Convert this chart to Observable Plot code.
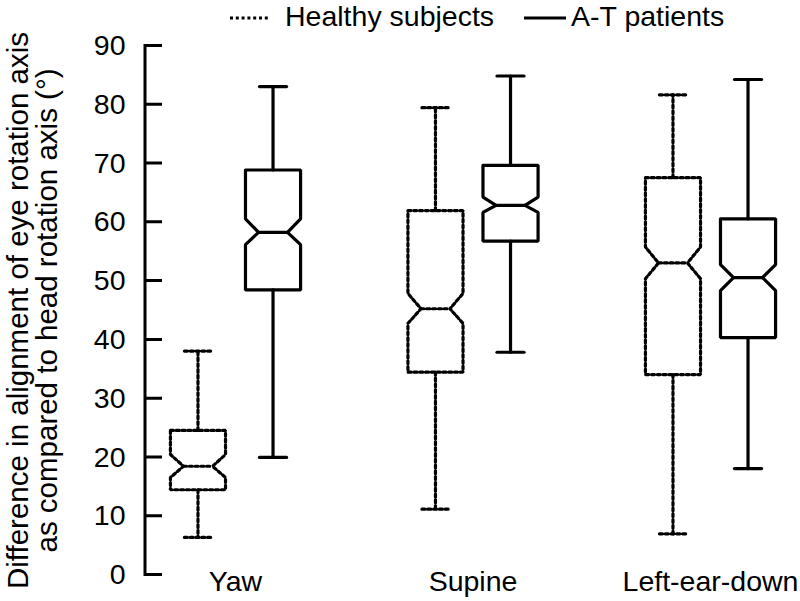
<!DOCTYPE html>
<html><head><meta charset="utf-8">
<script src="https://cdn.jsdelivr.net/npm/d3@7"></script>
<script src="https://cdn.jsdelivr.net/npm/@observablehq/plot@0.6"></script>
<style>
body{margin:0;background:#fff;font-family:"Liberation Sans",Arial,sans-serif;}
#wrap{position:relative;width:800px;height:601px;}
#legend{position:absolute;left:230px;top:0;height:32px;display:flex;align-items:center;font-size:28.5px;color:#000;white-space:nowrap;}
#legend svg{display:block;}
</style></head><body><div id="wrap"><div id="legend"></div></div>
<script>
const categories = ["Yaw", "Supine", "Left-ear-down"];
const groups = ["Healthy subjects", "A-T patients"];
const yTicks = [0, 10, 20, 30, 40, 50, 60, 70, 80, 90];
const yTitle = "Difference in alignment of eye rotation axis\nas compared to head rotation axis (°)";

const healthyMin = [6.4, 11.2, 7.0];
const healthyQ1 = [14.5, 34.5, 34.1];
const healthyMedian = [18.5, 45.3, 53.1];
const healthyQ3 = [24.6, 62.0, 67.6];
const healthyMax = [38.1, 79.5, 81.7];
const healthyNotchLow = [16.6, 42.8, 50.4];
const healthyNotchHigh = [20.5, 47.9, 55.8];

const patientMin = [20.0, 37.9, 18.1];
const patientQ1 = [48.5, 56.8, 40.4];
const patientMedian = [58.3, 62.9, 50.6];
const patientQ3 = [68.9, 69.7, 60.6];
const patientMax = [83.1, 84.9, 84.3];
const patientNotchLow = [56.2, 61.7, 48.4];
const patientNotchHigh = [60.6, 64.3, 52.8];

// layout constants (in category units)
const OFF = 0.158, HW = 0.116, INSET = 0.055, CAP = 0.057;

const boxes = [];
categories.forEach((c, i) => {
  boxes.push({group: groups[0], x: i - OFF, min: healthyMin[i], q1: healthyQ1[i], med: healthyMedian[i], q3: healthyQ3[i], max: healthyMax[i], nlo: healthyNotchLow[i], nhi: healthyNotchHigh[i]});
  boxes.push({group: groups[1], x: i + OFF, min: patientMin[i], q1: patientQ1[i], med: patientMedian[i], q3: patientQ3[i], max: patientMax[i], nlo: patientNotchLow[i], nhi: patientNotchHigh[i]});
});

function outline(b, id) {
  const l = b.x - HW, r = b.x + HW;
  return [
    [l, b.q3], [r, b.q3], [r, b.nhi], [r - INSET, b.med], [r, b.nlo], [r, b.q1],
    [l, b.q1], [l, b.nlo], [l + INSET, b.med], [l, b.nhi], [l, b.q3]
  ].map(([x, y]) => ({id, group: b.group, x, y}));
}
const outlinePts = boxes.flatMap((b, k) => outline(b, k));
function whiskerPts(b, id) {
  return [
    {id: id + "u", group: b.group, pts: [[b.x, b.q3], [b.x, b.max]]},
    {id: id + "uc", group: b.group, pts: [[b.x - CAP, b.max], [b.x + CAP, b.max]]},
    {id: id + "l", group: b.group, pts: [[b.x, b.q1], [b.x, b.min]]},
    {id: id + "lc", group: b.group, pts: [[b.x - CAP, b.min], [b.x + CAP, b.min]]},
    {id: id + "m", group: b.group, pts: [[b.x - HW + INSET, b.med], [b.x + HW - INSET, b.med]]}
  ].flatMap(s => s.pts.map(([x, y]) => ({id: s.id, group: s.group, x, y})));
}
const segPts = boxes.flatMap((b, k) => whiskerPts(b, k));

const healthyOutline = outlinePts.filter(d => d.group === groups[0]);
const patientOutline = outlinePts.filter(d => d.group === groups[1]);
const healthySeg = segPts.filter(d => d.group === groups[0]);
const patientSeg = segPts.filter(d => d.group === groups[1]);

const DOT = "3,2.8";
const SW = 3.2;

function yAxisFrame(index, scales, values, dimensions) {
  const y = scales.y;
  const x0 = dimensions.marginLeft;
  const [lo, hi] = d3.extent(yTicks);
  let d = `M${x0 + 17},${y(hi)}H${x0}V${y(lo)}H${x0 + 17}`;
  yTicks.slice(1, -1).forEach(t => { d += `M${x0},${y(t)}H${x0 + 17}`; });
  const g = d3.create("svg:g");
  g.append("path").attr("d", d).attr("fill", "none").attr("stroke", "black")
    .attr("stroke-width", 3).attr("stroke-linejoin", "miter").attr("stroke-linecap", "butt");
  return g.node();
}

const chart = Plot.plot({
  width: 800,
  height: 601,
  marginTop: 45.5,
  marginBottom: 26.5,
  marginLeft: 145,
  marginRight: 10,
  style: {fontFamily: "'Liberation Sans', Arial, sans-serif", fontSize: "28px", color: "black", background: "white"},
  x: {type: "linear", domain: [0, 2], range: [235, 710]},
  y: {domain: [0, 90]},
  marks: [
    Plot.axisY({ticks: yTicks, tickSize: 0, tickPadding: 20, fontSize: 28.5, label: null, tickFormat: d => String(d)}),
    Plot.axisX({ticks: [0, 1, 2], tickSize: 0, tickPadding: -4, fontSize: 28.5, label: null, tickFormat: i => categories[i]}),
    yAxisFrame,
    Plot.text([yTitle], {text: d => d, frameAnchor: "left", rotate: -90, dx: -112, fontSize: 29.5, lineHeight: 0.98, textAnchor: "middle", lineAnchor: "middle"}),
    Plot.line(healthyOutline, {x: "x", y: "y", z: "id", stroke: "black", strokeWidth: SW, strokeDasharray: DOT, strokeLinejoin: "miter"}),
    Plot.line(healthySeg, {x: "x", y: "y", z: "id", stroke: "black", strokeWidth: SW, strokeDasharray: DOT}),
    Plot.line(patientOutline, {x: "x", y: "y", z: "id", stroke: "black", strokeWidth: SW, strokeLinejoin: "miter"}),
    Plot.line(patientSeg, {x: "x", y: "y", z: "id", stroke: "black", strokeWidth: SW})
  ]
});
document.getElementById("wrap").appendChild(chart);

// legend
const legend = document.getElementById("legend");
function sample(dash, w) {
  const s = d3.create("svg").attr("width", w).attr("height", 6);
  s.append("line").attr("x1", 0).attr("x2", w).attr("y1", 3).attr("y2", 3)
    .attr("stroke", "black").attr("stroke-width", SW).attr("stroke-dasharray", dash);
  return s.node();
}
const s1 = sample(DOT, 38); s1.style.marginRight = "17px"; s1.style.marginTop = "4px";
const t1 = document.createElement("span"); t1.textContent = groups[0];
const s2 = sample(null, 42); s2.style.marginLeft = "30px"; s2.style.marginRight = "5px"; s2.style.marginTop = "4px";
const t2 = document.createElement("span"); t2.textContent = groups[1];
legend.append(s1, t1, s2, t2);
legend.style.zIndex = 2;
chart.style.position = "absolute"; chart.style.left = "0"; chart.style.top = "0";
</script>
</body></html>
